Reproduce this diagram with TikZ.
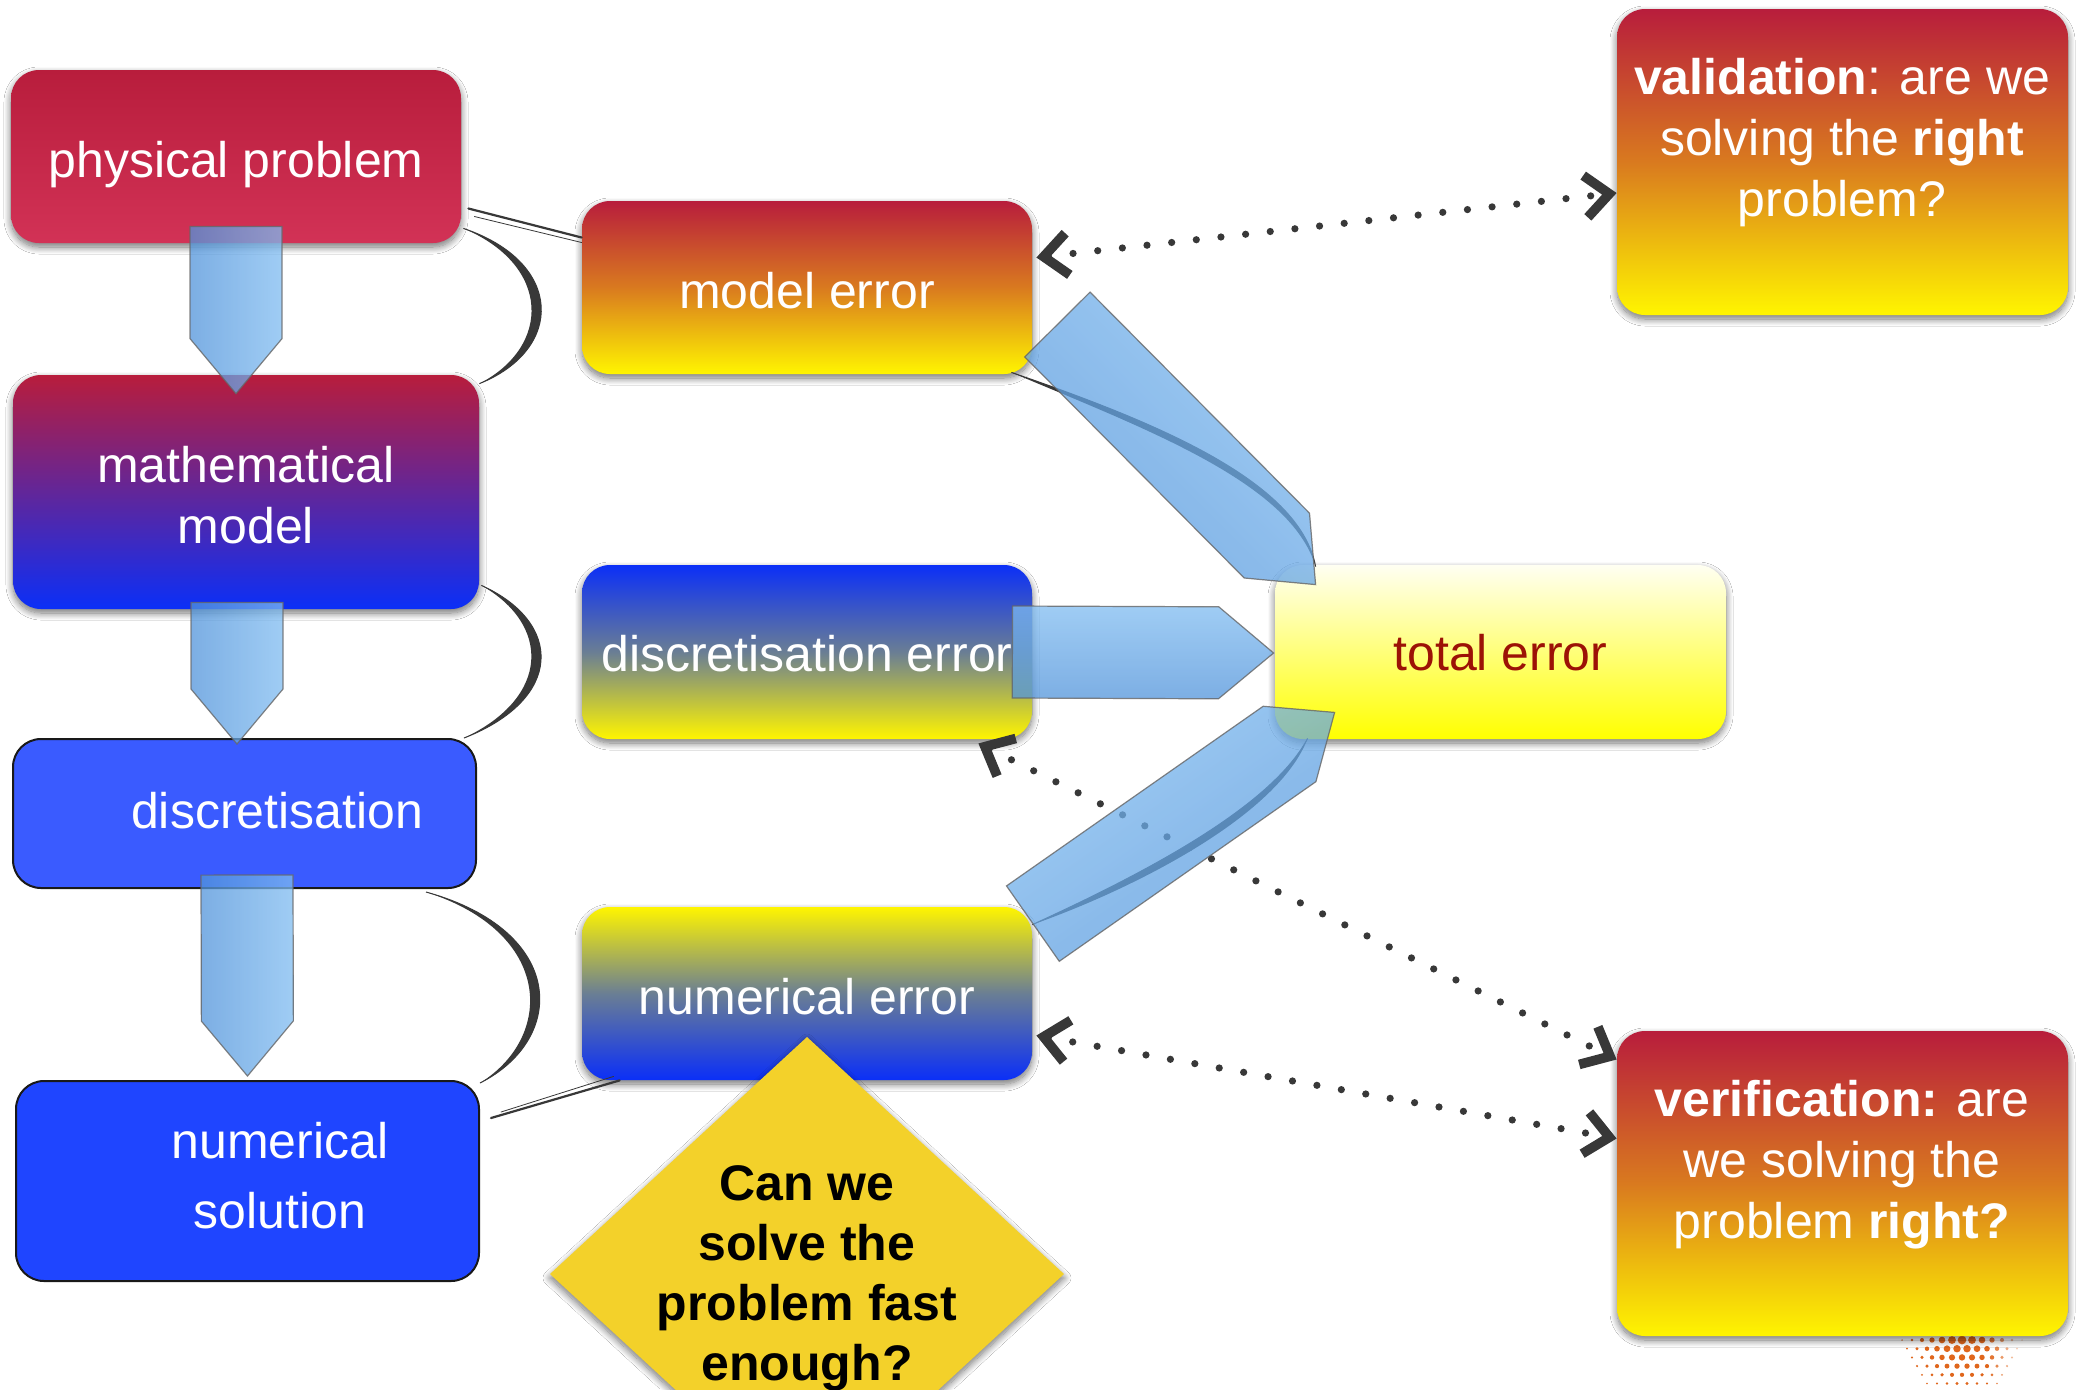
\documentclass[tikz,border=0pt]{standalone}
\usepackage{fontspec}
\setmainfont{Liberation Sans}
\usetikzlibrary{calc,arrows.meta,shadows.blur}

\definecolor{crimson}{HTML}{B81D3C}
\definecolor{crimsonlight}{HTML}{D23256}
\definecolor{deepblue}{HTML}{0B2FF7}
\definecolor{midorange}{HTML}{D97A1F}
\definecolor{lemon}{HTML}{FFF500}
\definecolor{steelgray}{HTML}{6A7E94}
\definecolor{paleyellow}{HTML}{FFFFF2}
\definecolor{brightyellow}{HTML}{FFFF00}
\definecolor{boxblue}{HTML}{3A5BFF}
\definecolor{solblue}{HTML}{1F45FF}
\definecolor{errred}{HTML}{9C1206}
\definecolor{gold}{HTML}{F3D12A}
\definecolor{arrowlight}{HTML}{80BCF1}
\definecolor{arrowdark}{HTML}{5194DB}
\definecolor{inkgray}{HTML}{383838}
\definecolor{dotorange}{HTML}{E0661C}

\tikzset{
  box/.style={rectangle, rounded corners=14pt, inner sep=0pt},
  shadowed/.style={blur shadow={shadow blur radius=3.5pt, shadow blur steps=12,
    shadow xshift=0pt, shadow yshift=-2pt, shadow opacity=55}},
  label text/.style={inner sep=0pt, text=white, align=center,
    font=\fontsize{25}{30.5}\selectfont},
  redbox/.style={box, shadowed, top color=crimson, bottom color=crimsonlight},
  purplebox/.style={box, shadowed, top color=crimson, bottom color=deepblue},
  sunsetbox/.style={box, shadowed, top color=crimson, bottom color=lemon,
    middle color=midorange},
  bluetopbox/.style={box, shadowed, top color=deepblue, bottom color=lemon,
    middle color=steelgray},
  yellowtopbox/.style={box, shadowed, top color=lemon, bottom color=deepblue,
    middle color=steelgray},
  totalbox/.style={box, shadowed, top color=paleyellow, bottom color=brightyellow},
  outlinebox/.style={box, draw=black!90, line width=1pt},
  flowarrowstyle/.style={draw=black!60, line width=0.6pt, draw opacity=0.8,
    fill opacity=0.75, top color=arrowlight, bottom color=arrowdark},
  vbarb/.tip={Straight Barb[length=12pt,width=21pt,line width=4.8pt]},
  dotlink/.style={draw=inkgray, line width=3.6pt, line cap=round,
    dash pattern=on 0pt off 12.4pt, vbarb-vbarb},
  thinink/.style={draw=inkgray, line cap=round},
}

% block arrow: tail point, tip point, shading angle
\newcommand{\flowarrow}[3]{%
  \coordinate (fa-neck) at ($(#2)!27.5pt!(#1)$);
  \path[flowarrowstyle, shading angle=#3]
    ($(#1)!23pt!90:(#2)$) -- ($(fa-neck)!23pt!90:(#2)$) -- (#2)
    -- ($(fa-neck)!23pt!-90:(#2)$) -- ($(#1)!23pt!-90:(#2)$) -- cycle;
}

% tapered brush stroke between two points (outer and inner control pairs)
\newcommand{\brushstroke}[6]{%
  \fill[inkgray] (#1) .. controls +#3 and +#4 .. (#2)
    .. controls +#5 and +#6 .. (#1) -- cycle;
  \draw[inkgray, line width=0.5pt] (#1) .. controls +#3 and +#4 .. (#2);
}

\begin{document}
\begin{tikzpicture}[x=0.5pt, y=-0.5pt]
\useasboundingbox (0,0) rectangle (2085,1389);
\fill[white] (0,0) rectangle (2085,1389);
\clip (0,0) rectangle (2085,1389);

% halftone emblem peeking out below the verification box
\foreach \i in {-7,...,7}{
  \foreach \j in {0,...,5}{
    \pgfmathsetmacro{\ddx}{10*\i+5*mod(\j,2)}
    \pgfmathsetmacro{\ddy}{8.7*\j+4}
    \pgfmathsetmacro{\rr}{4.6*(1-sqrt(\ddx*\ddx+\ddy*\ddy)/72)}
    \pgfmathsetmacro{\op}{min(1,max(0.3,1-(\ddx-25)/45))}
    \ifdim\rr pt>0.7pt
      \fill[dotorange, opacity=\op] (1962+\ddx,1336+\ddy) circle[radius=\rr];
    \fi
  }
}

% left column
\node[redbox, minimum width=225pt, minimum height=86.5pt] (phys) at (236,156.5) {};
\node[label text] (phys-t) at (236,164.5) {physical problem};
\node[purplebox, minimum width=233pt, minimum height=117pt] (math) at (246,492) {};
\node[label text] (math-t) at (246,495) {mathematical\\model};
\node[outlinebox, fill=boxblue, minimum width=231.5pt, minimum height=74.5pt]
  (disc) at (244.5,813.5) {};
\node[label text] (disc-t) at (277,811) {discretisation};
\node[outlinebox, fill=solblue, minimum width=231.5pt, minimum height=100pt]
  (numsol) at (247.5,1181) {};
\node[label text, font=\fontsize{25}{35}\selectfont] (numsol-t) at (280,1176)
  {numerical\\solution};

% error column
\node[sunsetbox, minimum width=225pt, minimum height=86.5pt] (merr) at (807,287.5) {};
\node[label text] (merr-t) at (807,290.5) {model error};
\node[bluetopbox, minimum width=225pt, minimum height=87pt] (derr) at (807,652) {};
\node[label text] (derr-t) at (807,653.5) {discretisation error};
\node[yellowtopbox, minimum width=225pt, minimum height=86.5pt] (nerr) at (807,993.5) {};
\node[label text] (nerr-t) at (807,996.5) {numerical error};
\node[totalbox, minimum width=225.5pt, minimum height=87pt] (total) at (1500.5,652) {};
\node[label text, text=errred] (total-t) at (1500.5,652.5) {total error};

% questions on the right
\node[sunsetbox, minimum width=225.5pt, minimum height=153pt] (valid) at (1842.5,162) {};
\node[label text] (valid-t) at (1842,142.5)
  {\textbf{validation}: are we\\solving the \textbf{right}\\problem?};
\node[sunsetbox, minimum width=225.5pt, minimum height=152.5pt] (verif) at (1842.5,1183.5) {};
\node[label text] (verif-t) at (1842,1165)
  {\textbf{verification:} are\\we solving the\\problem \textbf{right?}};

% speed question
\path[fill=gold, shadowed] (807,1037) -- (1064,1274) -- (807,1511)
  -- (550,1274) -- cycle;
\node[inner sep=0pt, align=center, text=black,
  font=\bfseries\fontsize{25}{30}\selectfont] (fast) at (807,1278)
  {Can we\\solve the\\problem fast\\enough?};

% brush strokes linking the stages
\coordinate (b1s) at ($(phys.south east)+(2,-15)$);
\coordinate (b1e) at ($(math.north east)+(0,9)$);
\brushstroke{b1s}{b1e}{(101,34)}{(85,-34)}{(72,-37)}{(88,37)}
\coordinate (b2s) at ($(math.south east)+(2,-24)$);
\coordinate (b2e) at ($(disc.north east)+(-13,0)$);
\brushstroke{b2s}{b2e}{(82,37)}{(100,-39)}{(87,-41)}{(69,39)}
\coordinate (b3s) at ($(disc.south east)+(-51,3)$);
\coordinate (b3e) at ($(numsol.north east)+(0,3)$);
\brushstroke{b3s}{b3e}{(141,39)}{(87,-44)}{(74,-46)}{(128,41)}

\coordinate (t1s) at ($(phys.east)+(7,52)$);
\coordinate (t1e) at ($(merr.west)+(0,-50)$);
\draw[thinink, line width=1.1pt] (t1s) -- (t1e);
\draw[thinink, line width=0.4pt] ($(t1s)+(6,8)$) -- ($(t1e)+(0,5)$);
\coordinate (t2s) at ($(numsol.east)+(11,-63)$);
\coordinate (t2e) at ($(nerr.south west)+(38,0)$);
\draw[thinink, line width=1.1pt] (t2s) -- (t2e);
\draw[thinink, line width=0.4pt] ($(t2s)+(10,-6)$) -- ($(t2e)+(-6,-4)$);

\coordinate (c1s) at ($(merr.south east)+(-21,-2)$);
\coordinate (c1e) at ($(total.north west)+(41,2)$);
\brushstroke{c1s}{c1e}{(139,48)}{(-16,-87)}{(-25,-84)}{(135,57)}
\coordinate (c2s) at ($(nerr.north east)+(0,18)$);
\coordinate (c2e) at ($(total.south west)+(33,-1)$);
\brushstroke{c2s}{c2e}{(98,-45)}{(-38,72)}{(-29,77)}{(102,-36)}

% dotted two-way links to the questions
\draw[dotlink] ($(merr.east)+(4,-30)$) -- ($(valid.west)+(0,31)$);
\draw[dotlink] ($(derr.south east)+(-54,4)$) -- ($(verif.west)+(0,-124)$);
\draw[dotlink] ($(nerr.east)+(4,42)$) -- ($(verif.west)+(0,-45)$);

% block arrows
\coordinate (a1s) at ($(phys.south)+(0,-17)$);
\coordinate (a1e) at ($(math.north)+(-10,19)$);
\flowarrow{a1s}{a1e}{-90}
\coordinate (a2s) at ($(math.south)+(-9,-7)$);
\coordinate (a2e) at ($(disc.north)+(-7.5,6)$);
\flowarrow{a2s}{a2e}{-90}
\coordinate (a3s) at ($(disc.south)+(2.5,-14)$);
\coordinate (a3e) at ($(numsol.north)+(0,-4)$);
\flowarrow{a3s}{a3e}{-90}
\coordinate (a4s) at ($(derr.east)+(-20,0)$);
\coordinate (a4e) at ($(total.west)+(-1,1)$);
\flowarrow{a4s}{a4e}{0}
\coordinate (a5s) at ($(merr.east)+(25,37)$);
\coordinate (a5e) at ($(total.north west)+(41,20)$);
\flowarrow{a5s}{a5e}{-45}
\coordinate (a6s) at ($(nerr.north east)+(0.5,17)$);
\coordinate (a6e) at ($(total.south west)+(60,-27)$);
\flowarrow{a6s}{a6e}{35}
\end{tikzpicture}
\end{document}
